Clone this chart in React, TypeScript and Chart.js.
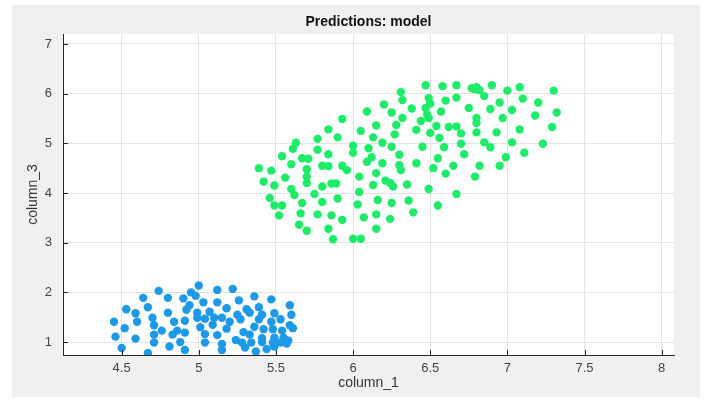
import React, { useEffect, useRef } from "react";
import { Chart, registerables } from "chart.js";

Chart.register(...registerables);

const TITLE = "Predictions: model";
const X_TITLE = "column_1";
const Y_TITLE = "column_3";

const xTicks = [4.5, 5, 5.5, 6, 6.5, 7, 7.5, 8];
const yTicks = [1, 2, 3, 4, 5, 6, 7];
const xRange = [4.12, 8.08];
const yRange = [0.74, 7.2];

const blueX = [
  5.0, 4.74, 5.12, 5.22, 4.95, 4.64, 4.8, 4.9, 4.98, 5.36,
  5.47, 4.53, 4.67, 4.94, 5.03, 5.12, 5.26, 5.59, 4.59, 4.8,
  4.92, 4.99, 5.07, 5.18, 5.31, 5.39, 5.6, 4.45, 4.6, 4.7,
  4.84, 4.99, 5.04, 5.1, 5.15, 5.25, 5.33, 5.41, 5.49, 4.52,
  4.71, 4.76, 4.91, 5.09, 5.2, 5.27, 5.39, 5.47, 5.53, 5.61,
  5.42, 4.86, 4.91, 5.01, 5.18, 5.29, 5.36, 5.48, 5.54, 5.59,
  4.46, 4.59, 4.71, 4.83, 5.04, 5.12, 5.24, 5.33, 5.41, 5.49,
  5.55, 5.58, 4.71, 4.88, 5.04, 5.15, 5.28, 5.34, 5.41, 5.48,
  5.53, 5.57, 4.5, 4.67, 4.81, 4.91, 5.15, 5.3, 5.37, 5.44,
  5.49,
];
const blueY = [
  2.14, 2.03, 2.05, 2.07, 2.0, 1.89, 1.89, 1.88, 1.93, 1.92,
  1.86, 1.66, 1.7, 1.74, 1.8, 1.8, 1.84, 1.74, 1.58, 1.59,
  1.65, 1.59, 1.61, 1.68, 1.66, 1.7, 1.55, 1.41, 1.41, 1.49,
  1.41, 1.49, 1.47, 1.49, 1.49, 1.55, 1.59, 1.55, 1.58, 1.28,
  1.34, 1.23, 1.43, 1.35, 1.41, 1.46, 1.46, 1.41, 1.46, 1.28,
  1.26, 1.23, 1.19, 1.3, 1.27, 1.2, 1.31, 1.26, 1.23, 1.34,
  1.11, 1.07, 1.15, 1.15, 1.16, 1.14, 1.04, 1.15, 1.08, 1.09,
  1.09, 1.03, 0.99, 1.0, 0.99, 0.96, 0.99, 0.99, 1.0, 0.99,
  0.99, 0.97, 0.88, 0.78, 0.91, 0.84, 0.84, 0.89, 0.81, 0.86,
  0.91,
];

const greenX = [
  6.47, 6.58, 6.67, 6.77, 6.8, 6.82, 6.9, 6.79, 7.0, 7.08,
  7.3, 6.31, 6.32, 6.49, 6.5, 6.6, 6.67, 6.85, 7.1, 7.2,
  6.2, 6.38, 6.47, 6.57, 6.75, 6.89, 6.95, 7.03, 7.32, 6.09,
  6.25, 6.48, 6.32, 6.49, 6.44, 6.8, 6.8, 6.97, 7.18, 5.93,
  6.15, 6.28, 6.54, 6.62, 6.67, 5.84, 6.05, 6.27, 6.41, 6.5,
  6.7, 6.8, 6.93, 7.08, 7.29, 5.9, 5.77, 6.13, 6.56, 5.63,
  6.0, 6.1, 6.19, 6.25, 6.45, 6.59, 6.7, 6.85, 6.89, 7.03,
  7.23, 5.61, 5.77, 5.84, 6.0, 6.12, 6.3, 6.55, 6.72, 6.99,
  7.11, 5.54, 5.67, 5.71, 6.09, 6.19, 6.3, 6.41, 5.39, 5.47,
  5.6, 5.7, 5.8, 5.84, 5.93, 5.96, 6.52, 6.65, 6.82, 6.95,
  6.31, 6.15, 6.04, 5.7, 5.56, 5.42, 5.49, 5.7, 5.8, 5.86,
  5.89, 6.13, 6.21, 6.24, 6.26, 6.35, 6.6, 6.79, 5.6, 6.49,
  6.04, 5.75, 5.62, 5.46, 6.67, 5.8, 5.9, 5.67, 5.49, 5.54,
  6.03, 6.16, 6.25, 6.36, 6.55, 5.52, 5.66, 5.77, 5.86, 5.93,
  6.07, 6.15, 6.24, 6.39, 5.65, 5.7, 5.84, 6.15, 5.87, 6.0, 6.05,
];
const greenY = [
  6.17, 6.15, 6.17, 6.11, 6.13, 6.07, 6.17, 6.09, 6.06, 6.13,
  6.06, 6.03, 5.87, 5.91, 5.8, 5.86, 5.92, 5.95, 5.9, 5.82,
  5.78, 5.7, 5.71, 5.64, 5.71, 5.69, 5.82, 5.67, 5.62, 5.64,
  5.62, 5.58, 5.51, 5.51, 5.45, 5.51, 5.41, 5.51, 5.56, 5.49,
  5.36, 5.37, 5.35, 5.33, 5.34, 5.28, 5.25, 5.18, 5.27, 5.21,
  5.2, 5.22, 5.22, 5.28, 5.33, 5.12, 5.09, 5.12, 5.11, 5.01,
  4.95, 4.9, 5.01, 4.93, 4.93, 4.92, 4.99, 5.02, 4.92, 5.02,
  4.99, 4.89, 4.87, 4.78, 4.81, 4.72, 4.77, 4.7, 4.78, 4.72,
  4.81, 4.74, 4.7, 4.69, 4.63, 4.6, 4.56, 4.6, 4.5, 4.45,
  4.58, 4.48, 4.55, 4.54, 4.55, 4.46, 4.5, 4.55, 4.55, 4.55,
  4.46, 4.4, 4.33, 4.33, 4.31, 4.23, 4.15, 4.2, 4.13, 4.19,
  4.19, 4.16, 4.25, 4.2, 4.13, 4.17, 4.39, 4.33, 4.08, 4.08,
  4.02, 3.98, 3.96, 3.9, 3.98, 3.82, 3.89, 3.8, 3.75, 3.75,
  3.77, 3.86, 3.8, 3.85, 3.75, 3.55, 3.59, 3.57, 3.55, 3.46,
  3.51, 3.57, 3.48, 3.61, 3.36, 3.24, 3.28, 3.28, 3.07, 3.08, 3.08,
];

const BLUE = "rgb(28,153,232)";
const GREEN = "rgb(30,236,104)";
const FONT = "'Liberation Sans', Arial, Helvetica, sans-serif";

const toPoints = (xs: number[], ys: number[]) => xs.map((x, i) => ({ x, y: ys[i] }));

const decorPlugin = {
  id: "decor",
  beforeDraw(chart: any) {
    const { ctx, chartArea: a, width, height } = chart;
    ctx.save();
    ctx.fillStyle = "#ffffff";
    ctx.fillRect(0, 0, width, height);
    ctx.fillStyle = "#f0f0f0";
    ctx.fillRect(12, 5, 688, 392);
    ctx.fillStyle = "#ffffff";
    ctx.fillRect(a.left, a.top, a.right - a.left, a.bottom - a.top);
    ctx.restore();
  },
  afterDatasetsDraw(chart: any) {
    const { ctx, chartArea: a, scales } = chart;
    ctx.save();
    ctx.strokeStyle = "#262626";
    ctx.lineWidth = 1;
    ctx.beginPath();
    xTicks.forEach((v) => {
      const px = Math.round(scales.x.getPixelForValue(v)) + 0.5;
      ctx.moveTo(px, a.bottom);
      ctx.lineTo(px, a.bottom - 5);
    });
    yTicks.forEach((v) => {
      const py = Math.round(scales.y.getPixelForValue(v)) + 0.5;
      ctx.moveTo(a.left, py);
      ctx.lineTo(a.left + 5, py);
    });
    ctx.stroke();

    const cx = (a.left + a.right) / 2;
    ctx.textAlign = "center";
    ctx.textBaseline = "middle";
    ctx.fillStyle = "#111111";
    ctx.font = `bold 14px ${FONT}`;
    ctx.fillText(TITLE, cx, 22);

    ctx.fillStyle = "#333333";
    ctx.font = `14px ${FONT}`;
    ctx.fillText(X_TITLE, cx, 383);

    ctx.translate(33, (a.top + a.bottom) / 2);
    ctx.rotate(-Math.PI / 2);
    ctx.fillText(Y_TITLE, 0, 0);
    ctx.restore();
  },
};

export default function App() {
  const ref = useRef<HTMLCanvasElement | null>(null);

  useEffect(() => {
    if (!ref.current) return;
    const chart = new Chart(ref.current, {
      type: "scatter",
      data: {
        datasets: [
          {
            label: "blue",
            data: toPoints(blueX, blueY),
            backgroundColor: BLUE,
            borderWidth: 0,
            pointRadius: 4.2,
          },
          {
            label: "green",
            data: toPoints(greenX, greenY),
            backgroundColor: GREEN,
            borderWidth: 0,
            pointRadius: 4.2,
          },
        ],
      },
      options: {
        animation: false,
        responsive: false,
        devicePixelRatio: 1,
        layout: { padding: { top: 34, right: 31, left: 0, bottom: 0 } },
        plugins: {
          legend: { display: false },
          tooltip: { enabled: false },
          title: { display: false },
        },
        scales: {
          x: {
            type: "linear",
            min: xRange[0],
            max: xRange[1],
            afterFit: (s: any) => {
              s.height = 45;
            },
            afterBuildTicks: (s: any) => {
              s.ticks = xTicks.map((v) => ({ value: v }));
            },
            ticks: {
              padding: 6,
              color: "#444444",
              font: { family: FONT, size: 13 },
              callback: (v: any) => String(v),
              maxRotation: 0,
              autoSkip: false,
            },
            grid: { color: "#e3e3e3", drawTicks: false, lineWidth: 1 },
            border: { color: "#262626", width: 1 },
          },
          y: {
            type: "linear",
            min: yRange[0],
            max: yRange[1],
            afterFit: (s: any) => {
              s.width = 63;
            },
            afterBuildTicks: (s: any) => {
              s.ticks = yTicks.map((v) => ({ value: v }));
            },
            ticks: {
              padding: 11,
              color: "#444444",
              font: { family: FONT, size: 13 },
              callback: (v: any) => String(v),
              autoSkip: false,
            },
            grid: { color: "#e3e3e3", drawTicks: false, lineWidth: 1 },
            border: { color: "#262626", width: 1 },
          },
        },
      },
      plugins: [decorPlugin],
    });
    return () => chart.destroy();
  }, []);

  return (
    <div style={{ position: "fixed", left: 0, top: 0, width: 705, height: 400 }}>
      <canvas ref={ref} width={705} height={400} style={{ width: 705, height: 400, display: "block" }} />
    </div>
  );
}
